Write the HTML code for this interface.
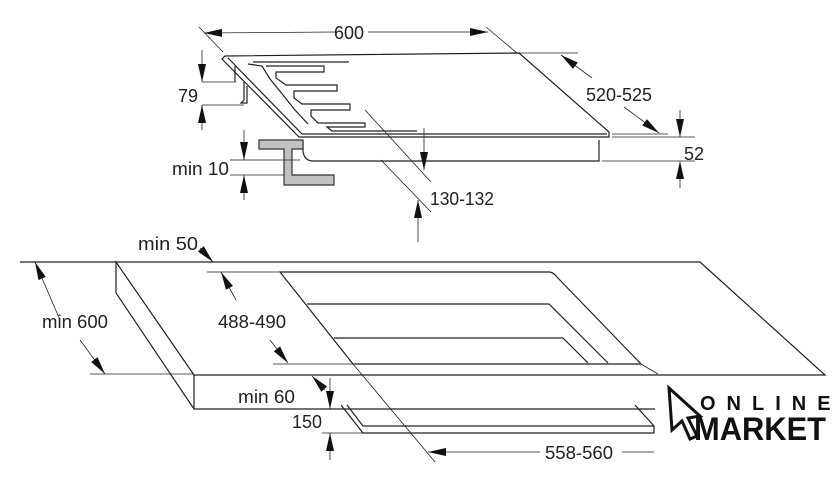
<!DOCTYPE html>
<html><head><meta charset="utf-8"><style>
html,body{margin:0;padding:0;background:#fff;}
svg{display:block}
text{font-family:"Liberation Sans",sans-serif;font-size:18px;fill:#222;}
</style></head><body>
<svg width="840" height="491" viewBox="0 0 840 491" xmlns="http://www.w3.org/2000/svg">
<defs>
<marker id="b" viewBox="0 0 18 8" refX="18" refY="4" markerWidth="18" markerHeight="8" markerUnits="userSpaceOnUse" orient="auto"><path d="M0,0L18,4L0,8z" fill="#111"/></marker>
</defs>
<g fill="none" stroke="#222" stroke-width="1.2">
<!-- hob -->
<path d="M225,56 L519,53 L609,132 L609,137 L299,137 L222,59 Z"/>
<path d="M228,58 L302,134 L607,134"/>
<path d="M303,140 L303,152 Q305,161 313,161 L599,161 L599,140"/>
<!-- burner rails -->
<path d="M253,62 L349,62 M266,66 L324,66 L324,72 L276,72 L276,78 L286,85 L337,85 L337,91 L294,91 L294,98 L302,104 L350,104 L350,110 L311,110 L311,116 L318,123 L365,123 L365,127 L327,127 L332,131 L417,131"/>
<path d="M248,64 L262,66 L270,79 L283,95 L295,110 L308,124"/>
<path d="M235,66 L235,82 M244,82 L244,100 L241,103 L247,103 L247,86"/>
<!-- bracket -->
<path d="M259,140 L303,140 L303,149 L292,149 L292,175 L334,175 L334,185 L284,185 L284,149 L259,149 Z" fill="#c2c2c2" stroke="#333"/>
<!-- 600 -->
<path d="M199,27 L223,52 M486,27 L517,53" stroke-width="0.8"/>
<path d="M335,32 L204,33" marker-end="url(#b)" stroke-width="0.8"/>
<path d="M368,32 L488,32" marker-end="url(#b)" stroke-width="0.8"/>
<!-- 520-525 -->
<path d="M519,53 L578,53 M612,134 L668,134" stroke-width="0.8"/>
<path d="M592,78 L561,55" marker-end="url(#b)" stroke-width="0.8"/>
<path d="M624,107 L659,133" marker-end="url(#b)" stroke-width="0.8"/>
<!-- 52 -->
<path d="M612,137 L695,137 M602,161 L695,161" stroke-width="0.8"/>
<path d="M680,110 L680,137" marker-end="url(#b)" stroke-width="0.8"/>
<path d="M680,188 L680,161" marker-end="url(#b)" stroke-width="0.8"/>
<!-- 79 -->
<path d="M202,82 L236,82 M202,105 L244,105" stroke-width="0.8"/>
<path d="M202,50 L202,82" marker-end="url(#b)" stroke-width="0.8"/>
<path d="M202,130 L202,105" marker-end="url(#b)" stroke-width="0.8"/>
<!-- min10 -->
<path d="M230,160 L300,160 M230,175 L284,175" stroke-width="0.8"/>
<path d="M244,130 L244,160" marker-end="url(#b)" stroke-width="0.8"/>
<path d="M244,200 L244,175" marker-end="url(#b)" stroke-width="0.8"/>
<!-- 130-132 -->
<path d="M365,110 L431,182 M381,160 L431,212" stroke-width="0.8"/>
<path d="M424,128 L424,170" marker-end="url(#b)" stroke-width="0.8"/>
<path d="M418,242 L418,200" marker-end="url(#b)" stroke-width="0.8"/>
<!-- worktop -->
<path d="M20,262 L700,262 L825,375 L194,375 L116,262 L116,293 L194,409 L655,409 M194,375 L194,409"/>
<!-- cutout -->
<path d="M280,272 L549,272 Q553,272 556,276 L641,364 L353,364 L280,272 Z"/>
<path d="M307,304 L549,304 L608,363 M334,338 L563,338 L588,363"/>
<path d="M641,364 L658,374" stroke-width="0.8"/>
<path d="M353,364 L435,462" stroke-width="0.8"/>
<path d="M207,272 L280,272 M273,364 L353,364 M90,374 L194,374" stroke-width="0.8"/>
<!-- lower panel -->
<path d="M341,405 L363,433 L654,433 L654,426 L635,405 M347,405 L363,426 L654,426"/>
<!-- dims lower -->
<path d="M60,320 L35,262" marker-end="url(#b)" stroke-width="0.8"/>
<path d="M80,340 L105,374" marker-end="url(#b)" stroke-width="0.8"/>
<path d="M236,300 L221,272" marker-end="url(#b)" stroke-width="0.8"/>
<path d="M270,340 L288,363" marker-end="url(#b)" stroke-width="0.8"/>
<path d="M200,248 L213,262" marker-end="url(#b)" stroke-width="0.8"/>
<path d="M325,390 L312,376" marker-end="url(#b)" stroke-width="0.8"/>
<path d="M330,378 L330,409" marker-end="url(#b)" stroke-width="0.8"/>
<path d="M330,460 L330,433" marker-end="url(#b)" stroke-width="0.8"/>
<path d="M322,433 L363,433" stroke-width="0.8"/>
<path d="M540,452 L428,452" marker-end="url(#b)" stroke-width="0.8"/>
<path d="M622,452 L654,452" stroke-width="0.8"/>
</g>
<text x="334" y="39" textLength="30" lengthAdjust="spacingAndGlyphs">600</text>
<text x="586" y="101" textLength="66" lengthAdjust="spacingAndGlyphs">520-525</text>
<text x="684" y="160" textLength="20" lengthAdjust="spacingAndGlyphs">52</text>
<text x="178" y="102" textLength="20" lengthAdjust="spacingAndGlyphs">79</text>
<text x="172" y="175" textLength="57" lengthAdjust="spacingAndGlyphs">min 10</text>
<text x="430" y="205" textLength="64" lengthAdjust="spacingAndGlyphs">130-132</text>
<text x="138" y="250" textLength="60" lengthAdjust="spacingAndGlyphs">min 50</text>
<text x="42" y="328" textLength="66" lengthAdjust="spacingAndGlyphs">min 600</text>
<text x="218" y="328" textLength="68" lengthAdjust="spacingAndGlyphs">488-490</text>
<text x="238" y="403" textLength="57" lengthAdjust="spacingAndGlyphs">min 60</text>
<text x="292" y="428" textLength="30" lengthAdjust="spacingAndGlyphs">150</text>
<text x="545" y="459" textLength="68" lengthAdjust="spacingAndGlyphs">558-560</text>
<!-- logo -->
<path d="M669,388 L700,416 L688,418 L697,436 L690,439 L682,421 L672,430 Z" fill="none" stroke="#111" stroke-width="3"/>
<text x="700" y="410" style="font-size:20px;font-weight:bold;letter-spacing:11px;fill:#111">ONLINE</text>
<text x="694" y="440" style="font-size:32px;font-weight:bold;fill:#111" textLength="132" lengthAdjust="spacingAndGlyphs">MARKET</text>
</svg>
</body></html>
